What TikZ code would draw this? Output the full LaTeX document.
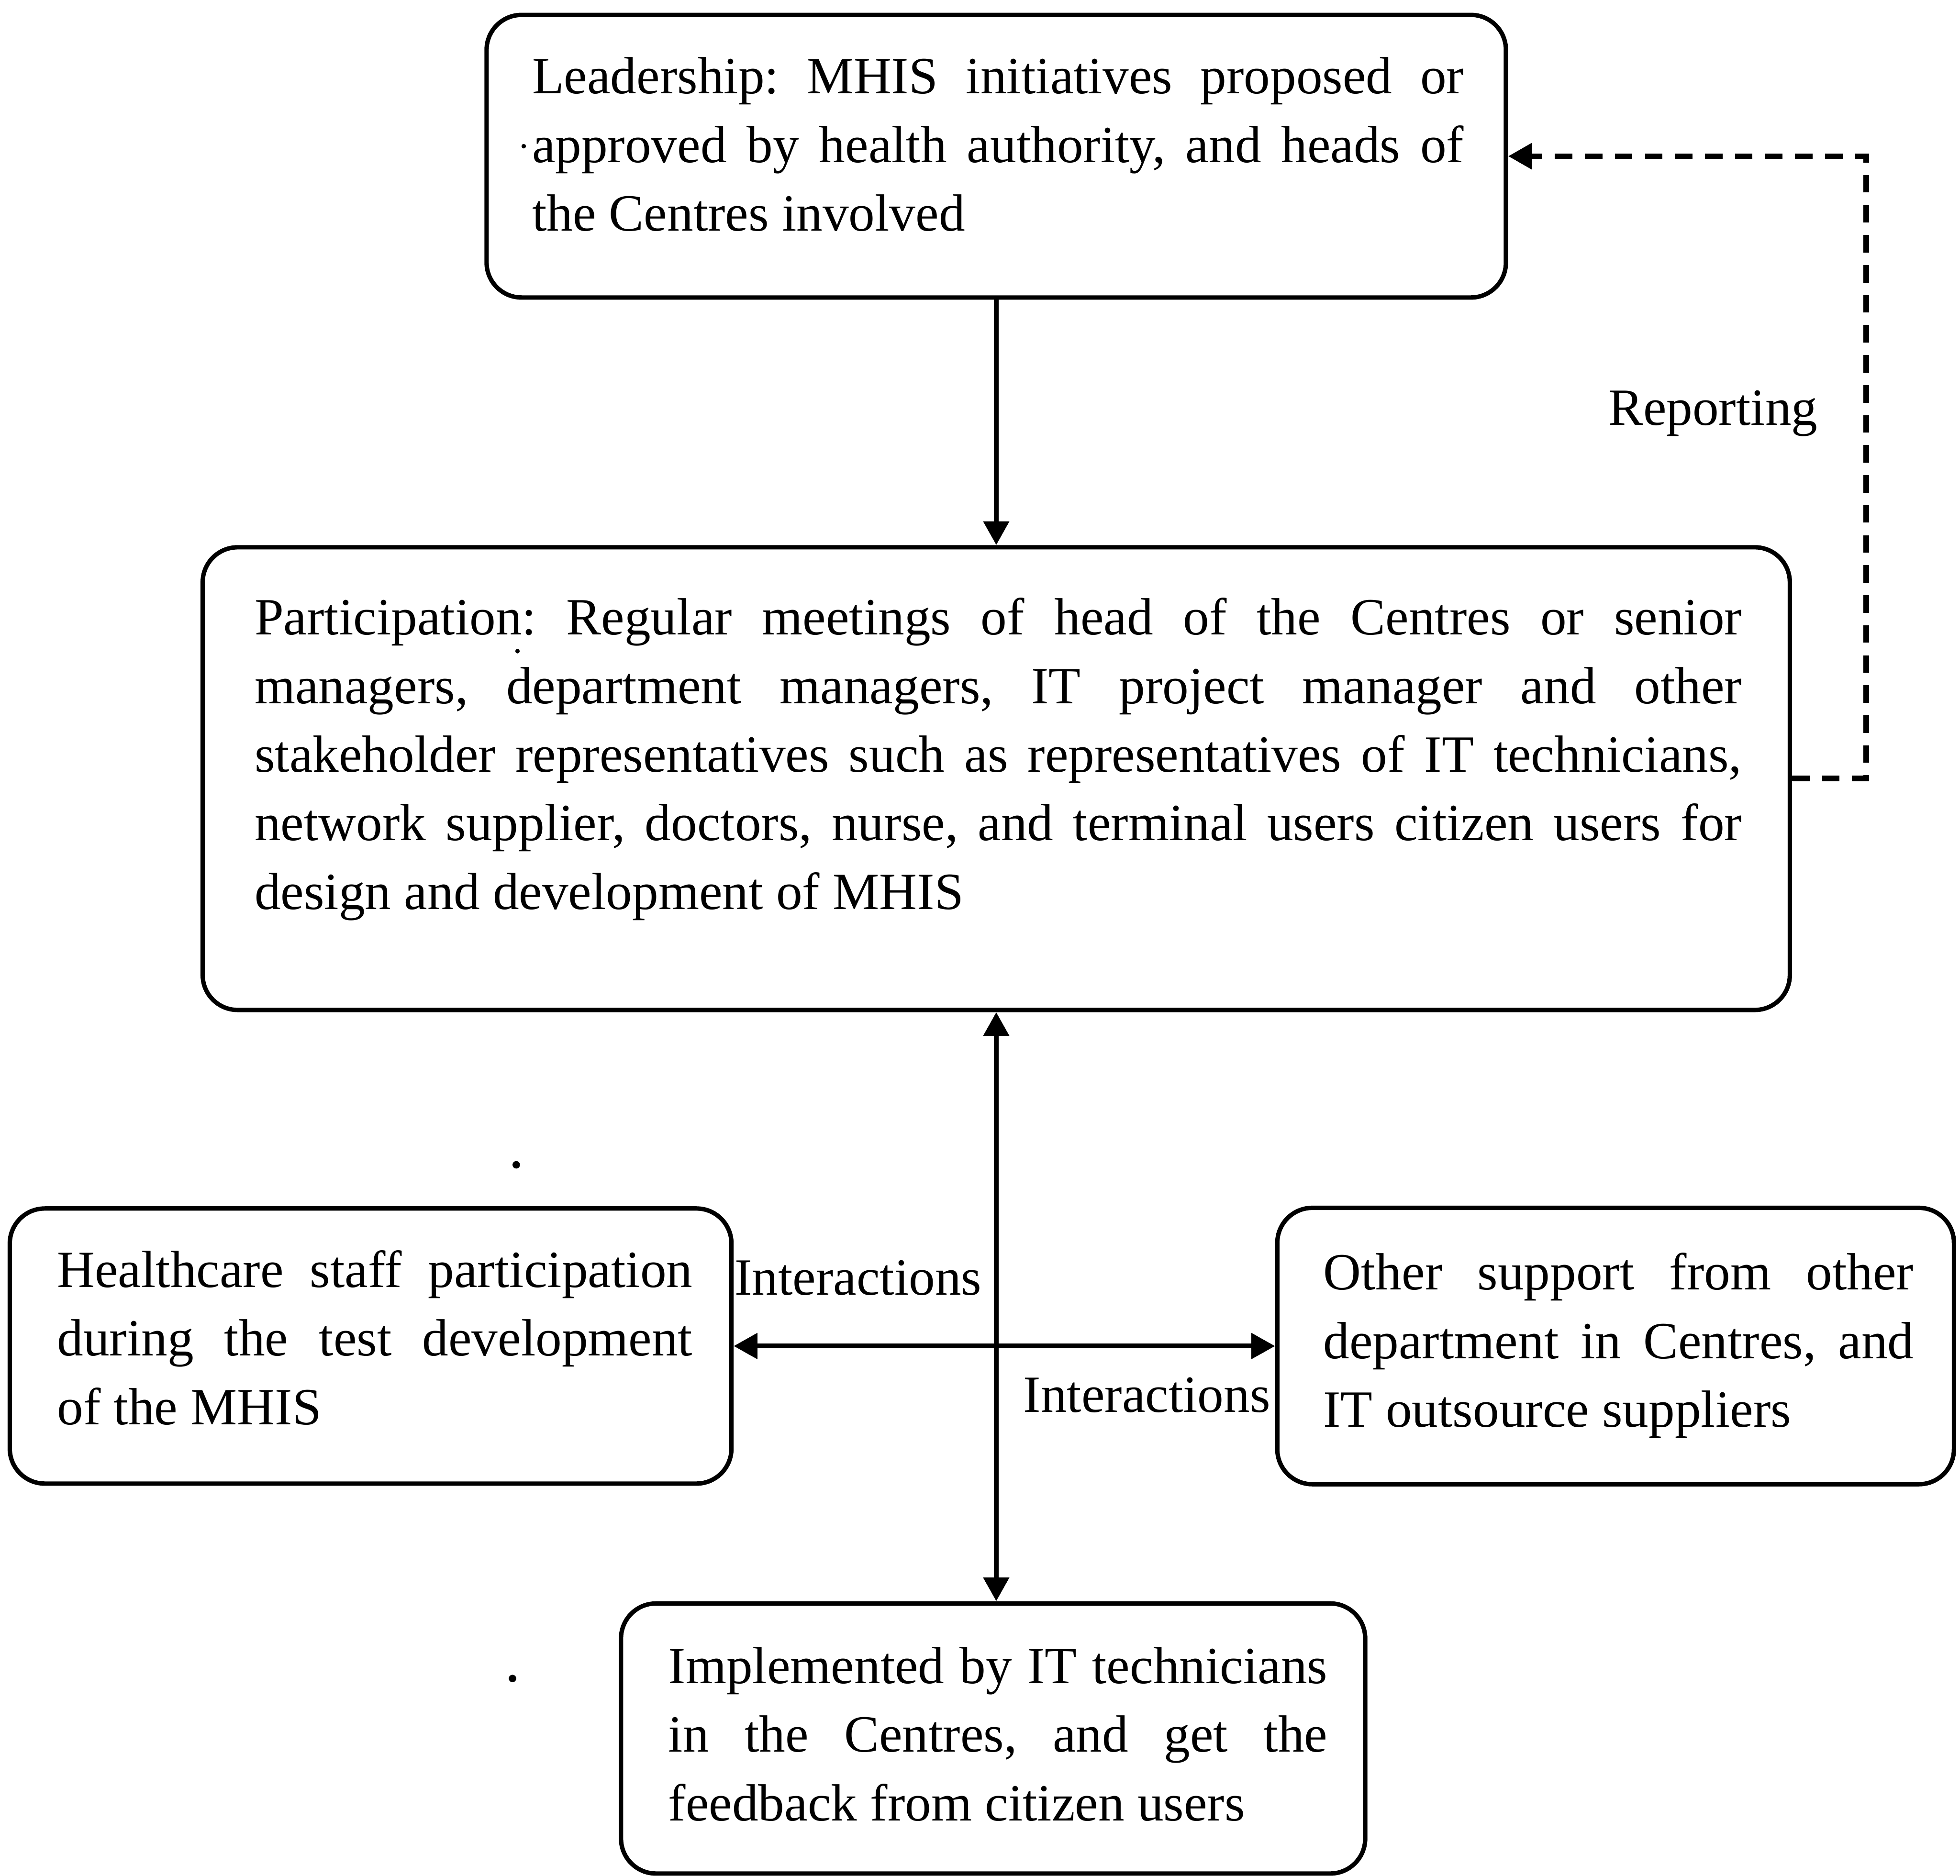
\documentclass[tikz,border=0pt]{standalone}
\usepackage{fontspec}
\setmainfont{Liberation Serif}
\usetikzlibrary{arrows.meta}
% justified boxes: break only where the line ends are marked, never hyphenate
\hyphenpenalty=10000
\exhyphenpenalty=10000
\tolerance=10000
\frenchspacing
\begin{document}
\begin{tikzpicture}[x=0.01cm,y=-0.01cm,
  box/.style={draw, line width=1pt, rounded corners=0.28cm, inner sep=0pt},
  boxtext/.style={anchor=base west, inner sep=0pt, align=justify,
    font=\fontsize{11.9}{15.6}\selectfont},
  linktext/.style={anchor=base west, inner sep=0pt, font=\fontsize{11.9}{15.6}\selectfont},
  link/.style={line width=1.1pt, -{Triangle[length=0.19cm,width=0.2cm]}},
  twoway/.style={line width=1.1pt, {Triangle[length=0.19cm,width=0.2cm]}-{Triangle[length=0.19cm,width=0.2cm]}},
  report/.style={line width=1.3pt, dash pattern=on 0.14cm off 0.1cm, -{Triangle[length=0.19cm,width=0.2cm]}},
]
\useasboundingbox (0,0) rectangle (1568,1501);

% boxes
\node[box, minimum width=8.15cm, minimum height=2.26cm] (lead) at (797,125) {};
\node[box, minimum width=12.69cm, minimum height=3.70cm] (part) at (797,623) {};
\node[box, minimum width=5.77cm, minimum height=2.20cm] (health) at (296.5,1077) {};
\node[box, minimum width=5.41cm, minimum height=2.21cm] (other) at (1292.5,1077) {};
\node[box, minimum width=5.95cm, minimum height=2.16cm] (impl) at (794.5,1391) {};

% box texts
\node[boxtext, text width=7.45cm] (leadtext) at (425,75)
  {Leadership: MHIS initiatives proposed or\linebreak approved by health authority, and heads of\linebreak the Centres involved};
\node[boxtext, text width=11.89cm] (parttext) at (203,508)
  {Participation: Regular meetings of head of the Centres or senior\linebreak managers, department managers, IT project manager and other\linebreak stakeholder representatives such as representatives of IT technicians,\linebreak network supplier, doctors, nurse, and terminal users citizen users for\linebreak design and development of MHIS};
\node[boxtext, text width=5.08cm] (healthtext) at (45,1030)
  {Healthcare staff participation\linebreak during the test development\linebreak of the MHIS};
\node[boxtext, text width=4.72cm] (othertext) at (1058,1032)
  {Other support from other\linebreak department in Centres, and\linebreak IT outsource suppliers};
\node[boxtext, text width=5.27cm] (impltext) at (534,1347)
  {Implemented by IT technicians\linebreak in the Centres, and get the\linebreak feedback from citizen users};

% connectors
\draw[link] (lead.south) -- (part.north);
\draw[twoway] (part.south) -- (part.south |- impl.north);
\draw[twoway] (health.east) -- (other.west);

\coordinate (bend) at (1493,0);
\draw[report] (part.east) -- (part.east -| bend) -- (lead.east -| bend) -- (lead.east);

% connector labels
\node[linktext] (rep) at (1286,340) {Reporting};
\node[linktext] (inter1) at (587,1036) {Interactions};
\node[linktext] (inter2) at (818,1130) {Interactions};

% loose specks
\fill (413,932) circle (0.03cm);
\fill (410,1343) circle (0.03cm);
\fill (419,117) circle (0.018cm);
\fill (414,521) circle (0.018cm);
\end{tikzpicture}
\end{document}
